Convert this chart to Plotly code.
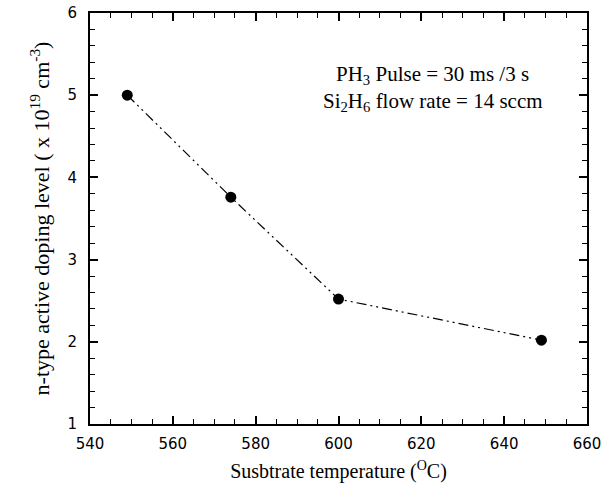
import plotly.graph_objects as go

temps = [549, 574, 600, 649]
doping = [5.0, 3.76, 2.52, 2.02]

serif = "Liberation Serif, Times New Roman, serif"
fig = go.Figure()
fig.add_trace(go.Scatter(
    x=temps, y=doping, mode="lines+markers",
    line=dict(color="black", width=1.2, dash="10px,4px,2px,4px,2px,4px"),
    marker=dict(color="black", size=11),
    showlegend=False, hoverinfo="skip",
))

axis_common = dict(
    showgrid=False, zeroline=False, showline=True, linecolor="black", linewidth=2,
    mirror="allticks", ticks="inside", tickcolor="black", tickwidth=1.5, ticklen=8,
    tickfont=dict(family="DejaVu Sans, Arial", size=15, color="black"),
    automargin=False,
)
fig.update_xaxes(range=[540, 660], tick0=540, dtick=20,
                 minor=dict(ticks="inside", dtick=5, ticklen=5, tickcolor="black", tickwidth=1.2),
                 title=dict(text="Susbtrate temperature (<sup>O</sup>C)",
                            font=dict(family=serif, size=20, color="black"),
                            standoff=12),
                 ticklabelstandoff=5,
                 **axis_common)
fig.update_yaxes(range=[1, 6], tick0=1, dtick=1,
                 minor=dict(ticks="inside", dtick=0.2, ticklen=5, tickcolor="black", tickwidth=1.2),
                 title=dict(text="n-type active doping level ( x 10<sup>19</sup> cm<sup>-3</sup>)",
                            font=dict(family=serif, size=22, color="black"),
                            standoff=12),
                 ticklabelstandoff=8,
                 **axis_common)

fig.add_annotation(x=0.69, y=0.848, xref="paper", yref="paper", showarrow=False,
                   xanchor="center", yanchor="middle",
                   text="PH<sub>3</sub> Pulse = 30 ms /3 s",
                   font=dict(family=serif, size=21, color="black"))
fig.add_annotation(x=0.69, y=0.783, xref="paper", yref="paper", showarrow=False,
                   xanchor="center", yanchor="middle",
                   text="Si<sub>2</sub>H<sub>6</sub> flow rate = 14 sccm",
                   font=dict(family=serif, size=21, color="black"))

fig.update_layout(width=613, height=491, margin=dict(l=90, r=26, t=13, b=67, autoexpand=False),
                  plot_bgcolor="white", paper_bgcolor="white")
fig.write_html("out.html", config={"displayModeBar": False},
               post_script="document.body.style.margin='0';")
